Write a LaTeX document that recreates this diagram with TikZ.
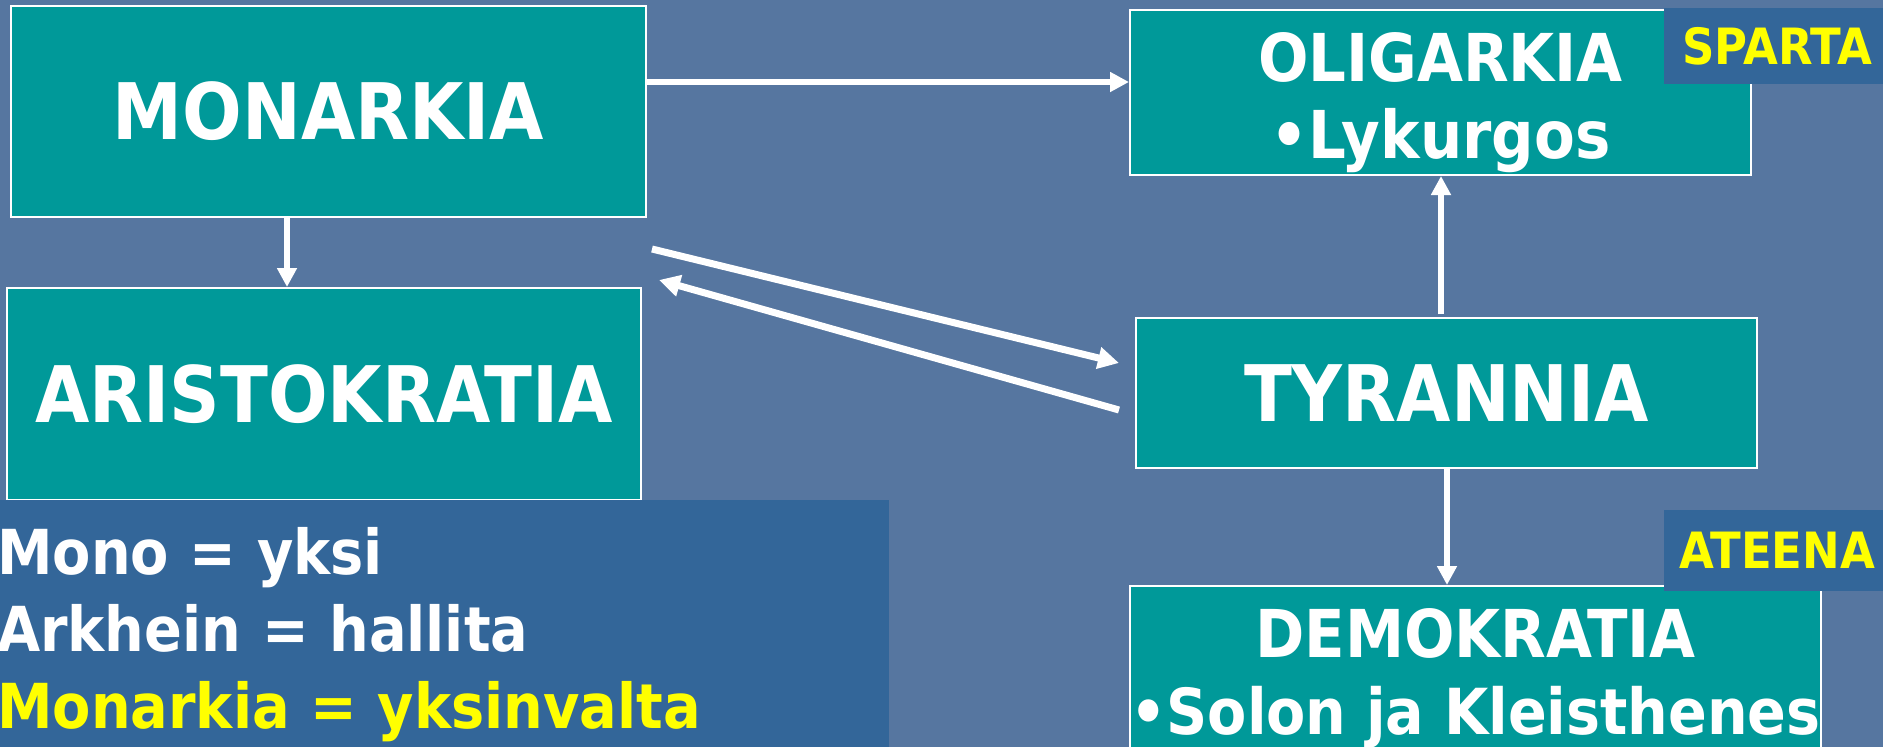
\documentclass[tikz,border=0pt]{standalone}
\usepackage{fontspec}
\setmainfont{DejaVu Sans Condensed}
\usetikzlibrary{arrows.meta,calc}
\definecolor{bg}{HTML}{5676A0}
\definecolor{boxteal}{HTML}{009999}
\definecolor{lblue}{HTML}{336699}
\definecolor{yel}{HTML}{FFFF00}
\begin{document}
\begin{tikzpicture}[x=1pt,y=-1pt,
  box/.style={draw=white,line width=2pt,fill=boxteal,inner sep=0pt,text=white,align=center},
  boxtext/.style={inner sep=0pt,text=white,align=center},
  bigtxt/.style={font=\bfseries\fontsize{78}{90}\selectfont},
  midtxt/.style={font=\bfseries\fontsize{66}{77}\selectfont},
  arr/.style={draw=white,line width=5.5pt,-{Triangle[length=19pt,width=19pt]}},
  darr/.style={arr,line width=7pt,-{Triangle[length=21pt,width=21pt]}},
  tag/.style={fill=lblue,inner sep=0pt,text=yel,anchor=north west,minimum width=226pt,font=\bfseries\fontsize{50}{58}\selectfont}]

\fill[bg] (0,0) rectangle (1883,747);
\useasboundingbox (0,0) rectangle (1883,747);

% boxes
\node[box,bigtxt,minimum width=635pt,minimum height=211pt] (mon) at (328.5,111.5) {MONARKIA};
\node[box,bigtxt,minimum width=634pt,minimum height=212pt] (aris) at (324,394) {ARISTOKRATIA};
\node[box,minimum width=621pt,minimum height=165pt] (olig) at (1440.5,92.5) {};
\node[boxtext,midtxt] (oligtxt) at ($(olig.center)+(0,10)$) {OLIGARKIA\\•Lykurgos};
\node[box,bigtxt,minimum width=621pt,minimum height=150pt] (tyr) at (1446.5,393) {TYRANNIA};
\node[box,minimum width=691pt,minimum height=172pt] (demo) at (1475.5,672) {};
\node[boxtext,font=\bfseries\fontsize{66}{77}\selectfont] (demotxt) at ($(demo.center)+(0,6)$)
  {DEMOKRATIA\\{\fontsize{63.5}{77}\selectfont •Solon ja Kleisthenes}};

% arrows
\coordinate (yA) at (0,82);
\coordinate (xB) at (287,0);
\coordinate (xC) at (1441,0);
\coordinate (xD) at (1447,0);
\coordinate (d1s) at (652,249);
\coordinate (d1e) at (1119,363);
\coordinate (d2s) at (1119,410);
\coordinate (d2e) at (659,280);
\draw[arr] (mon.east |- yA) -- (olig.west |- yA);
\draw[arr] (mon.south -| xB) -- (aris.north -| xB);
\draw[darr] (d1s) -- (d1e);
\draw[darr] (d2s) -- (d2e);
\draw[arr] ($(tyr.north -| xC)+(0,-3)$) -- (olig.south -| xC);
\draw[arr] (tyr.south -| xD) -- (demo.north -| xD);

% info box
\node[fill=lblue,inner sep=0pt,anchor=north west,minimum width=889pt,minimum height=269pt,
  text width=889pt,align=left,text=white,font=\bfseries\fontsize{62}{77}\selectfont] (info) at (0,500)
  {\hspace*{-3pt}Mono = yksi\\\hspace*{-3pt}Arkhein = hallita\\\hspace*{-3pt}\textcolor{yel}{Monarkia = yksinvalta}};

% tags
\node[tag,minimum height=76pt] (sparta) at (1664,8) {SPARTA};
\node[tag,minimum height=81pt] (ateena) at (1664,510) {ATEENA};
\end{tikzpicture}
\end{document}
